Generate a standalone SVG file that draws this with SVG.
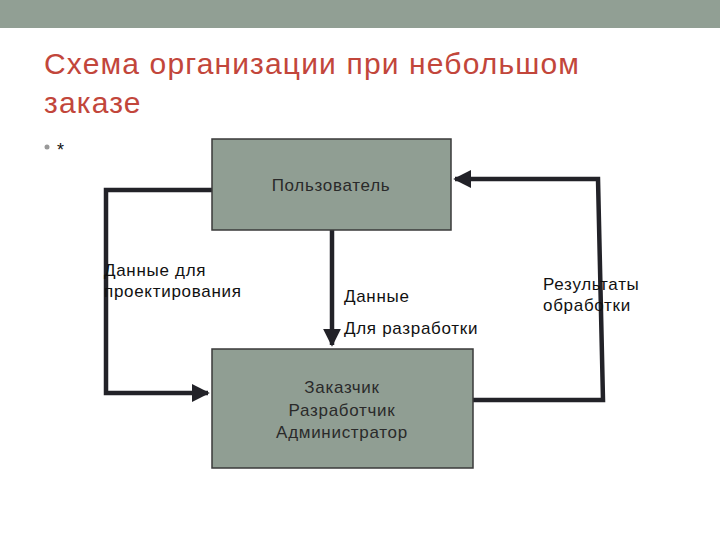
<svg xmlns="http://www.w3.org/2000/svg" width="720" height="540" viewBox="0 0 720 540">
<style>
.box{fill:#909e93;stroke:#3a3a3a;stroke-width:1.5}
.lbl{font-family:"Liberation Sans",Arial,sans-serif;font-size:17px;letter-spacing:0.7px;fill:#111}
.bt{font-family:"Liberation Sans",Arial,sans-serif;font-size:17px;letter-spacing:0.7px;fill:#2a2a2a;text-anchor:middle}
.ttl{font-family:"Liberation Sans",Arial,sans-serif;font-size:30px;letter-spacing:1.15px;fill:#c2463b}
.ln{fill:none;stroke:#222228;stroke-width:4.5;stroke-linejoin:miter}
</style>
<defs>
<marker id="ah" viewBox="0 0 10 10" refX="9" refY="5" markerWidth="4" markerHeight="4" orient="auto" markerUnits="strokeWidth">
<path d="M0,0 L10,5 L0,10 z" fill="#222228"/>
</marker>
</defs>
<rect x="0" y="0" width="720" height="540" fill="#ffffff"/>
<rect x="0" y="0" width="720" height="28" fill="#919f94"/>
<text class="ttl" x="44" y="74">Схема организации при небольшом</text>
<text class="ttl" x="44" y="113">заказе</text>
<circle cx="47" cy="147" r="2.5" fill="#999"/>
<text x="57" y="156" font-family="Liberation Sans,Arial,sans-serif" font-size="18" fill="#111">*</text>
<g id="connectors">
<path class="ln" d="M212,190 H106 V393 H208" marker-end="url(#ah)"/>
<path class="ln" d="M332,230 V345" marker-end="url(#ah)"/>
<path class="ln" d="M473,400 H603 L598,179 H455" marker-end="url(#ah)"/>
</g>
<g id="user">
<rect class="box" x="212" y="139" width="239" height="91"/>
<text class="bt" x="331" y="191">Пользователь</text>
</g>
<g id="team">
<rect class="box" x="212" y="349" width="261" height="119"/>
<text class="bt" x="342" y="393">Заказчик</text>
<text class="bt" x="342" y="416">Разработчик</text>
<text class="bt" x="342" y="438">Администратор</text>
</g>
<g id="labels">
<text class="lbl" x="104" y="276">Данные для</text>
<text class="lbl" x="104" y="297">проектирования</text>
<text class="lbl" x="344" y="302">Данные</text>
<text class="lbl" x="344" y="334">Для разработки</text>
<text class="lbl" x="543" y="290">Результаты</text>
<text class="lbl" x="543" y="311">обработки</text>
</g>
</svg>
